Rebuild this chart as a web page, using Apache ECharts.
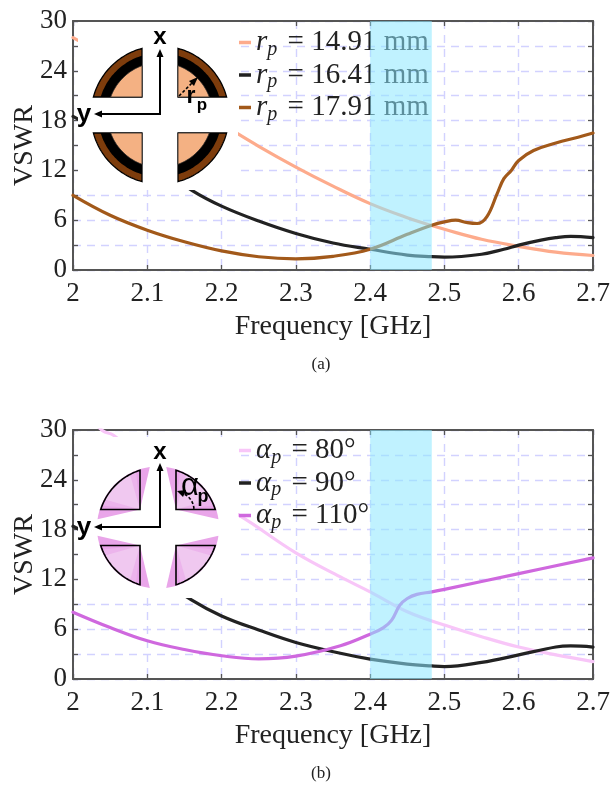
<!DOCTYPE html>
<html><head><meta charset="utf-8">
<style>html,body{margin:0;padding:0;background:#fff}#c{width:610px;height:786px}</style>
<script src="https://cdn.jsdelivr.net/npm/echarts@6/dist/echarts.min.js"></script>
</head><body><div id="c"></div>
<script>
// ---- data ----
const xTickLabels = ['2','2.1','2.2','2.3','2.4','2.5','2.6','2.7'];
const yTickLabels = ['0','6','12','18','24','30'];
const bandRange = [2.4, 2.483];

const fA1 = [2,2.05,2.1,2.15,2.2,2.25,2.3,2.35,2.4,2.45,2.483,2.5,2.55,2.6,2.65,2.7];
const rp1491 = [28,25.5,22.8,20.3,17.6,14.9,12.4,10.1,8,6.3,5.35,4.9,3.7,2.85,2.15,1.75];
const fA2 = [2,2.05,2.1,2.16,2.2,2.25,2.3,2.35,2.4,2.45,2.483,2.5,2.55,2.58,2.6,2.63,2.65,2.67,2.7];
const rp1641 = [18.5,16,13.3,9.6,7.7,5.9,4.4,3.25,2.5,1.8,1.6,1.55,1.9,2.5,3,3.6,3.9,4.05,3.9];
const fA3 = [2,2.05,2.1,2.15,2.2,2.25,2.3,2.35,2.4,2.45,2.483,2.5,2.515,2.531,2.544,2.557,2.571,2.58,2.59,2.6,2.62,2.65,2.68,2.7];
const rp1791 = [9,6.6,4.8,3.4,2.3,1.6,1.35,1.65,2.5,4.3,5.4,5.8,6,5.7,5.6,6.4,9.2,11,12,13.2,14.4,15.3,16,16.5];

const fB1 = [2,2.04,2.054,2.1,2.15,2.222,2.3,2.36,2.4,2.45,2.483,2.5,2.55,2.6,2.65,2.7];
const ap80 = [33.5,29.9,29.4,26,23.2,19.8,15.2,12.3,10.5,8.1,7,6.5,5.1,3.85,2.9,2.1];
const fB2 = [2,2.05,2.1,2.16,2.2,2.25,2.3,2.36,2.4,2.45,2.483,2.5,2.55,2.6,2.65,2.67,2.7];
const ap90 = [18.4,16,13.2,9.5,7.6,5.9,4.4,3.1,2.4,1.8,1.57,1.5,2,2.9,3.85,3.98,3.85];
const fB3 = [2,2.05,2.1,2.15,2.2,2.25,2.3,2.36,2.4,2.418,2.429,2.44,2.45,2.463,2.483,2.5,2.6,2.7];
const ap110 = [8.05,6.2,4.6,3.55,2.8,2.42,2.75,4,5.4,6.2,7.1,8.9,9.7,10.2,10.5,10.8,12.7,14.6];

const namesA = ['14.91','16.41','17.91'];
const namesB = ['80','90','110'];
const colorsA = ['#fdab8c','#222222','#a2591a'];
const colorsB = ['#f8c6f8','#222222','#cf68de'];

// ---- helpers ----
const serif = '"Liberation Serif", serif';
const zip = (xs, ys) => xs.map((x, i) => [x, ys[i]]);
const GRID = [{left:73,top:21,width:520,height:249,outerBoundsMode:'none'},{left:73,top:430,width:520,height:249,outerBoundsMode:'none'}];

function lineSeries(name, xs, ys, color, idx){
  return {name, type:'line', xAxisIndex:idx*2, yAxisIndex:idx*2, data:zip(xs,ys), showSymbol:false, symbol:'none',
    smooth:0.4, clip:true, z:3,
    lineStyle:{color, width:3.2, cap:'round', join:'round'}, itemStyle:{color}, silent:true};
}
function bandSeries(idx){
  return {type:'line', name:'band'+idx, xAxisIndex:idx*2, yAxisIndex:idx*2, data:[], silent:true, z:20,
    markArea:{silent:true, z:20, itemStyle:{color:'rgba(140,232,255,0.55)',borderWidth:0},
      data:[[{xAxis:bandRange[0],yAxis:0},{xAxis:bandRange[1],yAxis:30}]]}};
}
function xAxes(idx){
  const base = {type:'value',gridIndex:idx,min:2,max:2.7,interval:0.1};
  const axisLine = {show:true,onZero:false,lineStyle:{color:'#555',width:2}};
  const axisTick = {show:true,inside:true,length:5,lineStyle:{color:'#555',width:1.3}};
  return [
    {...base,position:'bottom',axisLine,axisTick,
      axisLabel:{margin:10,color:'#222',fontFamily:serif,fontSize:27,showMaxLabel:true,showMinLabel:true,hideOverlap:false,
        formatter:v=>xTickLabels[Math.round((v-2)*10)]},
      splitLine:{show:true,lineStyle:{color:'#d2d2ff',width:1.4,type:[8,6]}},
      name:'Frequency [GHz]',nameLocation:'middle',nameGap:43,nameMoveOverlap:false,
      nameTextStyle:{fontFamily:serif,fontSize:28,color:'#222'}},
    {...base,position:'top',axisLine,axisTick,axisLabel:{show:false},splitLine:{show:false}}
  ];
}
function yAxes(idx){
  const base = {type:'value',gridIndex:idx,min:0,max:30,interval:3};
  const axisLine = {show:true,onZero:false,lineStyle:{color:'#555',width:2}};
  const axisTick = {show:true,inside:true,length:5,lineStyle:{color:'#555',width:1.3}};
  return [
    {...base,position:'left',axisLine,axisTick,
      axisLabel:{margin:6,color:'#222',fontFamily:serif,fontSize:27,showMaxLabel:true,showMinLabel:true,hideOverlap:false,
        formatter:v=>yTickLabels.includes(String(v))?String(v):''},
      splitLine:{show:true,lineStyle:{color:'#d2d2ff',width:1.4,type:[8,6]}},
      name:'VSWR',nameLocation:'middle',nameGap:34,nameMoveOverlap:false,
      nameTextStyle:{fontFamily:serif,fontSize:28,color:'#222'}},
    {...base,position:'right',axisLine,axisTick,axisLabel:{show:false},splitLine:{show:false}}
  ];
}
const richLegend = {
  i:{fontFamily:serif,fontStyle:'italic',fontSize:29,color:'#222'},
  s:{fontFamily:serif,fontStyle:'italic',fontSize:20,color:'#222',padding:[14,3,0,0]},
  n:{fontFamily:serif,fontSize:29,color:'#222'}
};
function legendOf(top, names, fmt){
  return {show:true,left:239,top,padding:0,orient:'vertical',data:names,itemWidth:12,itemHeight:3.5,itemGap:1,icon:'rect',
    selectedMode:false,z:6,formatter:fmt,textStyle:{rich:richLegend,lineHeight:28}};
}

// ---- inset drawings (decoration only) ----
function quad(cx,cy,g,r,sx,sy){
  const h=Math.sqrt(r*r-g*g), a0=Math.atan2(g,h), a1=Math.atan2(h,g), pts=[[cx+sx*g,cy+sy*g]];
  for(let t=0;t<=32;t++){const a=a0+(a1-a0)*t/32; pts.push([cx+sx*r*Math.cos(a),cy+sy*r*Math.sin(a)]);}
  return pts;
}
function wedge(cx,cy,g,r,sx,sy,d){
  const pts=[[cx+sx*g,cy+sy*g]];
  for(let t=0;t<=24;t++){
    const th=(-d+(90+2*d)*t/24)*Math.PI/180, c=Math.cos(th), s=Math.sin(th);
    const b=g*(c+s), k=-b+Math.sqrt(b*b-(2*g*g-r*r));
    pts.push([cx+sx*(g+k*c),cy+sy*(g+k*s)]);
  }
  return pts;
}
const poly=(points,fill,stroke,lw,z)=>({type:'polygon',z:z||7,silent:true,shape:{points},style:{fill,stroke:stroke||null,lineWidth:lw||0}});
const seg=(x1,y1,x2,y2,w,dash)=>({type:'line',z:9,silent:true,shape:{x1,y1,x2,y2},style:{stroke:'#000',lineWidth:w,lineDash:dash||null}});
const txt=(text,x,y,size)=>({type:'text',z:9,silent:true,x,y,style:{text,fontFamily:'"Liberation Sans",sans-serif',fontWeight:'bold',fontSize:size,fill:'#000',align:'center',verticalAlign:'middle'}});
const tri=(p)=>({type:'polygon',z:9,silent:true,shape:{points:p},style:{fill:'#000'}});
const white=(x,y,w,h)=>({type:'rect',z:5,silent:true,shape:{x,y,width:w,height:h},style:{fill:'#fff'}});

function axesCross(cx,cy,topY,leftX,xLab,yLab){
  return [seg(cx,topY+6,cx,cy,2),seg(leftX+6,cy,cx+1,cy,2),
    tri([[cx,topY],[cx-3.5,topY+8],[cx+3.5,topY+8]]),tri([[leftX,cy],[leftX+8,cy-3.5],[leftX+8,cy+3.5]]),
    txt('x',cx,xLab,24),txt('y',yLab,cy+1,26)];
}
const g1=[white(78,22,160,168)];
[[1,-1],[-1,-1],[-1,1],[1,1]].forEach(([sx,sy])=>{
  g1.push(poly(quad(160,115,18,69,sx,sy),'#7d3c0c','#000',1.3));
  g1.push(poly(quad(160,115,18,62,sx,sy),'#000'));
  g1.push(poly(quad(160,115,18,52.5,sx,sy),'#f4b183','#222',0.8));
});
g1.push(...axesCross(160,114,49,94,37,84));
g1.push(seg(179,96,194,81,1.6,[3,2]),tri([[198,77],[189,81],[194,86]]),txt('r',191,97,23),txt('p',202,105,17));

const g2=[white(78,437,160,161)];
[[1,-1],[-1,-1],[-1,1],[1,1]].forEach(([sx,sy])=>{
  const cx=158,cy=527.5,g=18;
  g2.push(poly(wedge(cx,cy,g,61,sx,sy,13),'#e9a5e9'));
  g2.push(poly(wedge(cx,cy,g,60,sx,sy,-6),'#ecb4ec'));
  g2.push(poly(wedge(cx,cy,g,60,sx,sy,-16),'#f0c8f0'));
  g2.push(poly(quad(cx,cy,g,60,sx,sy),'transparent','#000',1.6,8));
});
g2.push(...axesCross(160,527,463,94,452,84));
g2.push({type:'arc',z:9,silent:true,shape:{cx:176,cy:510,r:18,startAngle:-Math.PI*0.02,endAngle:-Math.PI*0.42,clockwise:false},
  style:{stroke:'#000',fill:null,lineWidth:1.6,lineDash:[3,2]}});
g2.push(tri([[177,491],[186,490],[183,497]]),
  {type:'text',z:9,silent:true,x:190,y:486,style:{text:'\u03b1',fontFamily:'"Liberation Sans",sans-serif',fontSize:31,fill:'#000',align:'center',verticalAlign:'middle'}},
  txt('p',203,497,18));

// ---- option ----
const series=[
  lineSeries('a0',fA1,rp1491,colorsA[0],0),lineSeries('a1',fA2,rp1641,colorsA[1],0),lineSeries('a2',fA3,rp1791,colorsA[2],0),
  lineSeries('b0',fB1,ap80,colorsB[0],1),lineSeries('b1',fB2,ap90,colorsB[1],1),lineSeries('b2',fB3,ap110,colorsB[2],1),
  bandSeries(0),bandSeries(1)
];
const chart=echarts.init(document.getElementById('c'),null,{renderer:'canvas',width:610,height:786});
chart.setOption({
  animation:false,backgroundColor:'#fff',
  grid:GRID,
  xAxis:[...xAxes(0),...xAxes(1)],
  yAxis:[...yAxes(0),...yAxes(1)],
  legend:[
    legendOf(28,['a0','a1','a2'],n=>`{i|r}{s|p}{n| = ${namesA[+n[1]]} mm}`),
    legendOf(436,['b0','b1','b2'],n=>`{i|\u03b1}{s|p}{n| = ${namesB[+n[1]]}\u00b0}`)
  ],
  title:[
    {text:'(a)',left:321,top:356,padding:0,textAlign:'center',textStyle:{fontFamily:serif,fontSize:17,fontWeight:'normal',color:'#222'}},
    {text:'(b)',left:321,top:765,padding:0,textAlign:'center',textStyle:{fontFamily:serif,fontSize:17,fontWeight:'normal',color:'#222'}}
  ],
  graphic:{elements:[...g1,...g2]},
  series
});
</script></body></html>
